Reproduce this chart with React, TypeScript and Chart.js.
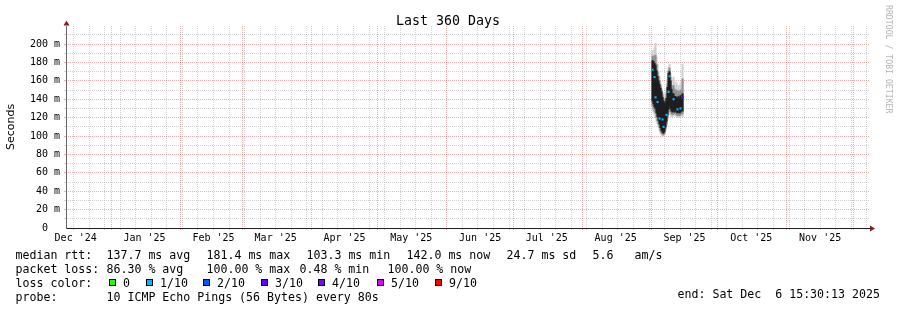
import React, { useEffect, useRef } from "react";
import { Chart, registerables } from "chart.js";

Chart.register(...registerables);

const MONO = "'DejaVu Sans Mono', monospace";
const SANS = "'DejaVu Sans', sans-serif";

// ---------- time window ----------
const WINDOW_START = new Date(2024, 11, 11, 15, 30, 13);
const X_MAX_DAYS = 361.35;
const Y_MAX_MS = 219.6;

const TITLE = "Last 360 Days";
const Y_TITLE = "Seconds";
const WATERMARK = "RRDTOOL / TOBI OETIKER";

const monthLabels = ["Dec '24", "Jan '25", "Feb '25", "Mar '25", "Apr '25", "May '25", "Jun '25", "Jul '25", "Aug '25", "Sep '25", "Oct '25", "Nov '25"];
const yTickValues = [0, 20, 40, 60, 80, 100, 120, 140, 160, 180, 200];
const yTickLabels = ["0  ", "20 m", "40 m", "60 m", "80 m", "100 m", "120 m", "140 m", "160 m", "180 m", "200 m"];
const yMinorValues = [10, 30, 50, 70, 90, 110, 130, 150, 170, 190, 210];

// ---------- smoke data (ms), one sample every 10.8 h from Sep 1 2025 14:00 ----------
const SAMPLE_START = new Date(2025, 8, 1, 14, 0);
const SAMPLE_STEP_HOURS = 10.8;
const outerHi = [193, 190, 196, 201, 186, 178, 170, 164, 158, 153, 148, 143, 141, 146, 152, 162, 174, 178, 168, 160, 152, 164, 160, 152, 158, 150, 155, 150, 157, 152, 178];
const midHi =   [187, 185, 187, 188, 178, 170, 165, 160, 155, 150, 145, 140, 138, 141, 146, 157, 171, 174, 164, 155, 148, 155, 151, 148, 150, 145, 149, 146, 150, 147, 162];
const coreHi =  [182, 181, 179, 177, 171, 165, 160, 156, 152, 148, 142, 138, 135, 137, 141, 153, 168, 170, 160, 151, 146, 146, 143, 143, 142, 141, 143, 141, 144, 142, 146];
const coreLo =  [138, 135, 132, 130, 125, 121, 117, 113, 109, 106, 104, 103, 105, 110, 116, 123, 129, 133, 130, 127, 126, 128, 126, 128, 126, 125, 127, 125, 126, 128, 127];
const midLo =   [133, 130, 127, 125, 120, 116, 113, 109, 105, 103, 102, 101, 103, 108, 113, 120, 126, 129, 126, 124, 123, 125, 124, 126, 123, 122, 124, 122, 123, 125, 124];
const outerLo = [128, 126, 123, 120, 116, 113, 110, 106, 103, 101, 100, 100, 102, 106, 111, 118, 123, 126, 123, 121, 121, 123, 122, 124, 121, 120, 122, 120, 121, 123, 121];
const median =  [172, 166, 164, 142, 140, 137, 134, 119, 126, 121, 118, 110, 114, 120, 123, 135, 148, 165, 150, 140, 138, 140, 135, 133, 129, 129, 131, 130, 130, 136, 142];
const medianLoss = [1, 0, 1, 1, 0, 1, 0, 1, 0, 0, 1, 1, 0, 0, 1, 0, 1, 1, 0, 0, 0, 1, 0, 0, 0, 1, 0, 0, 1, 0, 3];

// ---------- legend ----------
const lossLabels = ["0", "1/10", "2/10", "3/10", "4/10", "5/10", "9/10"];
const lossColors = ["#26ff00", "#00b8ff", "#0059ff", "#5e00ff", "#7e00ff", "#dd00ff", "#ff0000"];
const rttStats = ["137.7 ms avg", "181.4 ms max", "103.3 ms min", "142.0 ms now", "24.7 ms sd"];
const rttAmS = ["5.6", "am/s"];
const lossStats = ["86.30 % avg", "100.00 % max", "0.48 % min", "100.00 % now"];
const PROBE = "10 ICMP Echo Pings (56 Bytes) every 80s";
const END_LABEL = "end: Sat Dec  6 15:30:13 2025";

// layout positions (px)
const rttX = [107, 207, 307, 407, 507];
const amsX = [593, 635];
const lossX = [107, 207, 300, 388];
const swatchX = [109, 146, 203, 261, 318, 377, 435];

const GRID = "rgba(143,143,143,0.4)";
const MGRID = "rgba(222,79,79,0.45)";

const dayOf = (d: Date) => (d.getTime() - WINDOW_START.getTime()) / 86400000;

const labelDays = monthLabels.map((_, i) => dayOf(new Date(2024, 11 + i, 16)));
const monthStartDays = Array.from({ length: 12 }, (_, i) => dayOf(new Date(2025, i, 1))).filter((d) => d <= X_MAX_DAYS);
const weekDays: number[] = [];
for (let d = new Date(2024, 11, 15); dayOf(d) <= X_MAX_DAYS; d = new Date(d.getFullYear(), d.getMonth(), d.getDate() + 7)) {
  const v = dayOf(d);
  if (!monthStartDays.some((m) => Math.abs(m - v) < 0.05)) weekDays.push(v);
}

const sampleStartDay = dayOf(SAMPLE_START);
const sampleDays = coreLo.map((_, i) => sampleStartDay + (i * SAMPLE_STEP_HOURS) / 24);
const band = (lo: number[], hi: number[]) => lo.map((l, i) => ({ x: sampleDays[i], y: [l, hi[i]] }));

const medianIdx = median.map((_, i) => i).filter((i) => medianLoss[i] > 0);

function gridScale(axis: "x" | "y", values: number[], color: string, max: number) {
  return {
    type: "linear",
    axis,
    position: axis === "x" ? "bottom" : "left",
    min: 0,
    max,
    weight: 0,
    offset: false,
    afterBuildTicks: (s: any) => {
      s.ticks = values.map((value) => ({ value }));
    },
    afterFit: (s: any) => {
      if (axis === "x") s.height = 0;
      else s.width = 0;
    },
    ticks: { display: false },
    grid: { color, lineWidth: 1, drawTicks: true, tickLength: 2, tickColor: color, offset: false },
    border: { display: false, dash: [1, 1] },
  };
}

const axisArrows = {
  id: "axisArrows",
  afterDraw(chart: any) {
    const { ctx, chartArea } = chart;
    const { left, right, top, bottom } = chartArea;
    ctx.save();
    ctx.strokeStyle = "#1f1f1f";
    ctx.lineWidth = 1;
    ctx.beginPath();
    ctx.moveTo(right, bottom + 0.5);
    ctx.lineTo(right + 1, bottom + 0.5);
    ctx.stroke();
    ctx.fillStyle = "#801f1f";
    ctx.beginPath();
    ctx.moveTo(left + 0.5, top - 5.5);
    ctx.lineTo(left - 2.5, top - 0.5);
    ctx.lineTo(left + 3.5, top - 0.5);
    ctx.closePath();
    ctx.fill();
    ctx.beginPath();
    ctx.moveTo(right + 6, bottom + 0.5);
    ctx.lineTo(right + 1, bottom - 2.5);
    ctx.lineTo(right + 1, bottom + 3.5);
    ctx.closePath();
    ctx.fill();
    ctx.restore();
  },
};

function T({ x, baseline, size = 11.6, color = "#000", children }: any) {
  return (
    <div
      style={{
        position: "absolute",
        left: x,
        top: baseline - 0.846 * size,
        fontFamily: MONO,
        fontSize: size,
        lineHeight: `${size}px`,
        color,
        whiteSpace: "pre",
      }}
    >
      {children}
    </div>
  );
}

export default function App() {
  const ref = useRef<HTMLCanvasElement | null>(null);

  useEffect(() => {
    const canvas = ref.current;
    if (!canvas) return;
    const chart = new Chart(canvas, {
      type: "bar",
      data: {
        datasets: [
          {
            type: "scatter",
            label: "median",
            data: medianIdx.map((i) => ({ x: sampleDays[i], y: median[i] })),
            pointStyle: "rect",
            pointRadius: 1.5,
            pointBorderWidth: 0,
            pointBackgroundColor: medianIdx.map((i) => lossColors[medianLoss[i]]),
            order: 0,
          } as any,
          {
            label: "core",
            data: band(coreLo, coreHi) as any,
            backgroundColor: "#1e1e1e",
            grouped: false,
            barThickness: 1.4,
            borderWidth: 0,
            order: 1,
          },
          {
            label: "mid",
            data: band(midLo, midHi) as any,
            backgroundColor: "#8f8f8f",
            grouped: false,
            barThickness: 1.4,
            borderWidth: 0,
            order: 2,
          },
          {
            label: "outer",
            data: band(outerLo, outerHi) as any,
            backgroundColor: "#d0d0d0",
            grouped: false,
            barThickness: 1.4,
            borderWidth: 0,
            order: 3,
          },
        ],
      },
      options: {
        animation: false,
        responsive: false,
        devicePixelRatio: 1,
        events: [],
        layout: { autoPadding: false, padding: { left: 0, right: 28, top: 26, bottom: 62 } },
        plugins: { legend: { display: false }, tooltip: { enabled: false }, title: { display: false } },
        scales: {
          x: {
            type: "linear",
            position: "bottom",
            min: 0,
            max: X_MAX_DAYS,
            weight: 10,
            offset: false,
            afterBuildTicks: (s: any) => {
              s.ticks = labelDays.map((value) => ({ value }));
            },
            afterFit: (s: any) => {
              s.height = 20;
            },
            ticks: {
              autoSkip: false,
              maxRotation: 0,
              minRotation: 0,
              padding: 4,
              color: "#000",
              font: { family: MONO, size: 10 },
              callback: (_v: any, i: number) => monthLabels[i],
            },
            grid: { display: false, drawTicks: false, offset: false },
            border: { display: true, color: "#1f1f1f", width: 1 },
          },
          xMinor: gridScale("x", weekDays, GRID, X_MAX_DAYS),
          xMajor: gridScale("x", monthStartDays, MGRID, X_MAX_DAYS),
          y: {
            type: "linear",
            position: "left",
            min: 0,
            max: Y_MAX_MS,
            weight: 10,
            afterBuildTicks: (s: any) => {
              s.ticks = yTickValues.map((value) => ({ value }));
            },
            afterFit: (s: any) => {
              s.width = 66;
            },
            ticks: {
              padding: 6,
              color: "#000",
              font: { family: MONO, size: 10 },
              callback: (_v: any, i: number) => yTickLabels[i],
            },
            grid: { display: false, drawTicks: false },
            border: { display: true, color: "#666", width: 1 },
            title: {
              display: true,
              text: Y_TITLE,
              color: "#000",
              font: { family: SANS, size: 11 },
              padding: { top: 5, bottom: 0 },
            },
          },
          yMinor: gridScale("y", yMinorValues, GRID, Y_MAX_MS),
          yMajor: gridScale("y", yTickValues.filter((v) => v > 0), MGRID, Y_MAX_MS),
        } as any,
      },
      plugins: [axisArrows],
    });
    return () => chart.destroy();
  }, []);

  return (
    <div style={{ position: "absolute", left: 0, top: 0, width: 897, height: 310, background: "#fff", overflow: "hidden" }}>
      <canvas ref={ref} width={897} height={310} style={{ position: "absolute", left: 0, top: 0, width: 897, height: 310 }} />
      <div
        style={{
          position: "absolute",
          left: 0,
          width: 896,
          top: 25 - 0.846 * 13.3,
          fontFamily: MONO,
          fontSize: 13.3,
          lineHeight: "13.3px",
          textAlign: "center",
          color: "#000",
          whiteSpace: "pre",
        }}
      >
        {TITLE}
      </div>
      <div
        style={{
          position: "absolute",
          left: 892.5,
          top: 5,
          fontFamily: MONO,
          fontSize: 8.2,
          lineHeight: "8.2px",
          color: "#b4b4b4",
          whiteSpace: "pre",
          transform: "rotate(90deg)",
          transformOrigin: "0 0",
        }}
      >
        {WATERMARK}
      </div>

      <T x={15.5} baseline={259.5}>median rtt:</T>
      {rttStats.map((s, i) => (
        <T key={"r" + i} x={rttX[i] - 0.5} baseline={259.5}>{s}</T>
      ))}
      {rttAmS.map((s, i) => (
        <T key={"a" + i} x={amsX[i] - 0.5} baseline={259.5}>{s}</T>
      ))}

      <T x={15.5} baseline={273.5}>packet loss:</T>
      {lossStats.map((s, i) => (
        <T key={"l" + i} x={lossX[i] - 0.5} baseline={273.5}>{s}</T>
      ))}

      <T x={15.5} baseline={287.5}>loss color:</T>
      {lossLabels.map((s, i) => (
        <React.Fragment key={"c" + i}>
          <div
            style={{
              position: "absolute",
              left: swatchX[i],
              top: 279,
              width: 7,
              height: 7,
              boxSizing: "border-box",
              border: "1px solid #000",
              background: lossColors[i],
            }}
          />
          <T x={swatchX[i] + 14} baseline={287.5}>{s}</T>
        </React.Fragment>
      ))}

      <T x={15.5} baseline={301.5}>probe:</T>
      <T x={106.5} baseline={301.5}>{PROBE}</T>
      <T x={677.5} baseline={299}>{END_LABEL}</T>
    </div>
  );
}
